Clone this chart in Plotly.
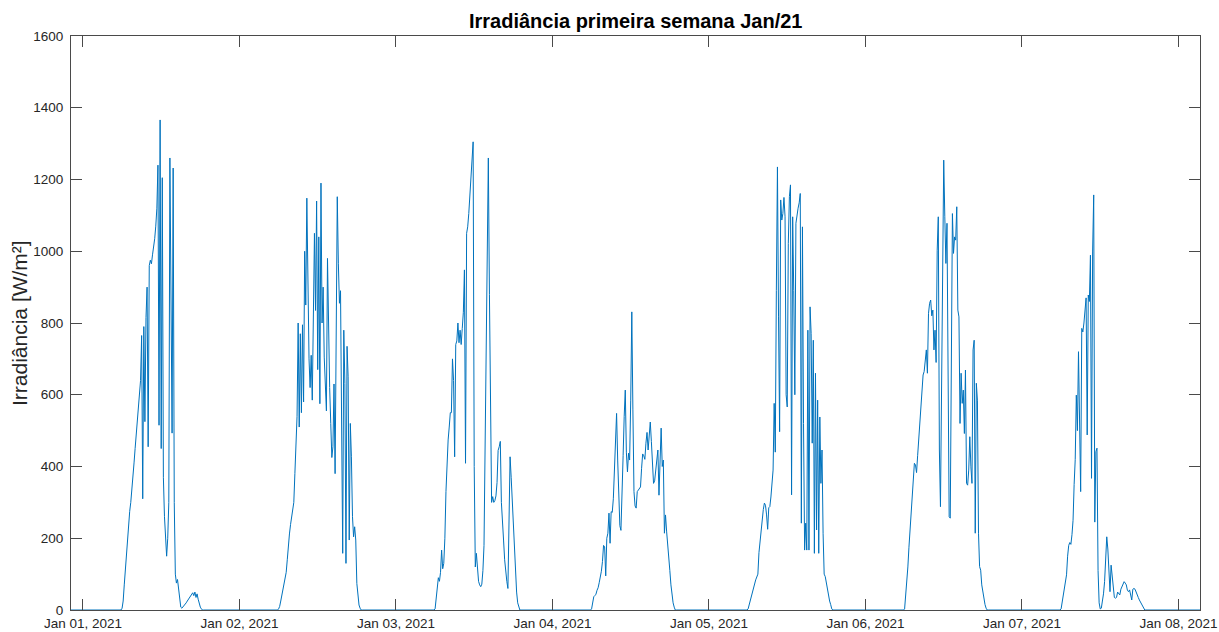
import pandas as pd
import plotly.graph_objects as go

# Irradiance in W/m², one value every 10 minutes from 06:00 to 18:50 of each day
jan01 = [5, 25, 70, 115, 160, 200, 240, 275, 300, 330, 365, 410, 450, 490, 530, 565,
         595, 640, 765, 310, 790, 525, 815, 900, 455, 960, 975, 965, 990, 1010, 1035, 1070,
         1120, 1240, 515, 1366, 450, 1205, 370, 260, 200, 150, 200, 300, 1260, 800, 493, 1232,
         300, 100, 75, 85, 60, 20, 8, 5, 8, 12, 15, 20, 25, 30, 35, 40,
         45, 48, 40, 50, 35, 45, 30, 15, 8, 3, 0, 0, 0, 0]
jan02 = [3, 10, 25, 40, 55, 70, 88, 105, 140, 188, 212, 238, 262, 272, 300, 380,
         470, 540, 800, 510, 770, 550, 795, 580, 1000, 850, 1148, 860, 700, 620, 710, 585,
         845, 1050, 835, 1140, 670, 1040, 575, 1190, 800, 900, 705, 600, 555, 980, 725, 620,
         520, 425, 455, 630, 380, 680, 1152, 965, 855, 890, 576, 158, 780, 632, 130, 735,
         650, 195, 520, 427, 260, 204, 232, 195, 74, 33, 14, 5, 0, 0]
jan03 = [3, 30, 56, 90, 80, 105, 167, 115, 130, 200, 330, 415, 474, 510, 550, 550,
         700, 640, 427, 740, 750, 800, 745, 780, 740, 785, 830, 948, 409, 1050, 1068, 1105,
         1160, 1200, 1255, 1305, 400, 120, 158, 102, 80, 70, 65, 72, 110, 180, 450, 690,
         1000, 1260, 880, 500, 300, 316, 300, 305, 318, 355, 445, 455, 470, 300, 225, 195,
         140, 100, 80, 60, 225, 427, 370, 300, 230, 170, 102, 50, 20, 5]
jan04 = [3, 20, 37, 40, 44, 55, 62, 76, 90, 108, 135, 180, 176, 95, 200, 214,
         270, 186, 274, 272, 310, 400, 500, 548, 418, 320, 235, 222, 300, 430, 540, 613,
         440, 385, 437, 418, 585, 831, 560, 330, 290, 284, 330, 334, 336, 343, 395, 435,
         430, 420, 465, 495, 446, 493, 524, 470, 390, 353, 360, 390, 400, 446, 320, 420,
         507, 400, 418, 214, 265, 220, 190, 150, 110, 70, 40, 20, 8, 0]
jan05 = [3, 15, 30, 40, 55, 65, 75, 84, 92, 100, 160, 192, 225, 250, 280, 298,
         292, 265, 225, 285, 288, 315, 350, 390, 576, 440, 890, 1235, 817, 497, 1143, 1087,
         1105, 1150, 1096, 600, 566, 1022, 1152, 1185, 321, 1096, 890, 600, 1078, 1110, 1120, 1135,
         1161, 242, 1068, 520, 167, 242, 167, 780, 167, 845, 771, 465, 752, 158, 660, 223,
         585, 158, 538, 353, 446, 214, 100, 93, 74, 55, 37, 25, 15, 3]
jan06 = [3, 35, 75, 120, 175, 225, 285, 330, 380, 409, 404, 383, 430, 480, 525, 570,
         615, 655, 665, 710, 725, 660, 827, 855, 864, 820, 836, 725, 780, 690, 1003, 1096,
         446, 288, 678, 1050, 1254, 1096, 966, 1078, 632, 260, 256, 632, 1105, 994, 1040, 1031,
         1124, 836, 817, 520, 660, 576, 613, 492, 669, 353, 348, 390, 483, 399, 353, 725,
         752, 214, 632, 585, 214, 121, 111, 70, 50, 28, 15, 5, 0, 0]
jan07 = [3, 23, 50, 68, 82, 98, 150, 180, 188, 183, 210, 250, 350, 420, 599, 500,
         720, 441, 330, 785, 775, 800, 840, 870, 488, 878, 860, 989, 367, 998, 1157, 245,
         441, 451, 110, 20, 3, 5, 25, 45, 79, 130, 204, 170, 100, 51, 125, 90,
         65, 35, 33, 35, 50, 45, 42, 58, 65, 70, 79, 75, 70, 55, 51, 56,
         35, 28, 58, 60, 58, 48, 40, 35, 28, 22, 18, 10, 5, 0]

days = ["2021-01-01", "2021-01-02", "2021-01-03", "2021-01-04",
        "2021-01-05", "2021-01-06", "2021-01-07"]
daily_values = [jan01, jan02, jan03, jan04, jan05, jan06, jan07]

tick_dates = ["2021-01-01", "2021-01-02", "2021-01-03", "2021-01-04",
              "2021-01-05", "2021-01-06", "2021-01-07", "2021-01-08"]
tick_labels = ["Jan 01, 2021", "Jan 02, 2021", "Jan 03, 2021", "Jan 04, 2021",
               "Jan 05, 2021", "Jan 06, 2021", "Jan 07, 2021", "Jan 08, 2021"]
y_ticks = [0, 200, 400, 600, 800, 1000, 1200, 1400, 1600]

# Full 10-minute series; nights are zero
times = pd.date_range("2020-12-31 22:10", "2021-01-08 03:20", freq="10min")
irr = pd.Series(0.0, index=times)
for day, vals in zip(days, daily_values):
    idx = pd.date_range(pd.Timestamp(day) + pd.Timedelta(hours=6),
                        periods=len(vals), freq="10min")
    irr.loc[idx] = vals

axis_color = "#4a4a4a"
font_family = "Liberation Sans, Arial, Helvetica, sans-serif"

fig = go.Figure()
fig.add_trace(go.Scatter(
    x=irr.index, y=irr.values, mode="lines",
    line=dict(color="#0072BD", width=1),
    showlegend=False,
))

fig.update_layout(
    width=1219, height=632,
    margin=dict(l=71, r=19, t=36, b=22, autoexpand=False),
    paper_bgcolor="white", plot_bgcolor="white",
    font=dict(family=font_family, color="#262626", size=13.5),
    title=dict(
        text="<b>Irradiância primeira semana Jan/21</b>",
        x=0.5215, xanchor="center", y=0.967, yanchor="middle",
        font=dict(size=20, color="#000000", family=font_family),
    ),
)

# y-axis label placed as a rotated annotation left of the tick labels
fig.add_annotation(
    text="Irradiância [W/m²]", textangle=-90,
    xref="paper", yref="paper", x=0, y=0.5,
    xanchor="center", yanchor="middle", xshift=-52,
    showarrow=False, font=dict(size=21, color="#262626", family=font_family),
)

fig.update_xaxes(
    range=["2020-12-31 22:10", "2021-01-08 03:18"],
    tickvals=tick_dates, ticktext=tick_labels,
    ticks="inside", ticklen=11, tickwidth=1, tickcolor=axis_color,
    showline=True, linecolor=axis_color, linewidth=1, mirror="ticks",
    showgrid=False, zeroline=False,
    tickfont=dict(size=13.5, color="#262626"),
    ticklabelstandoff=1,
    automargin=False,
)
fig.update_yaxes(
    range=[0, 1600],
    tickvals=y_ticks,
    ticks="inside", ticklen=11, tickwidth=1, tickcolor=axis_color,
    showline=True, linecolor=axis_color, linewidth=1, mirror="ticks",
    showgrid=False, zeroline=False,
    tickfont=dict(size=13.5, color="#262626"),
    ticklabelstandoff=4,
    automargin=False,
)

fig.write_html("out.html")
